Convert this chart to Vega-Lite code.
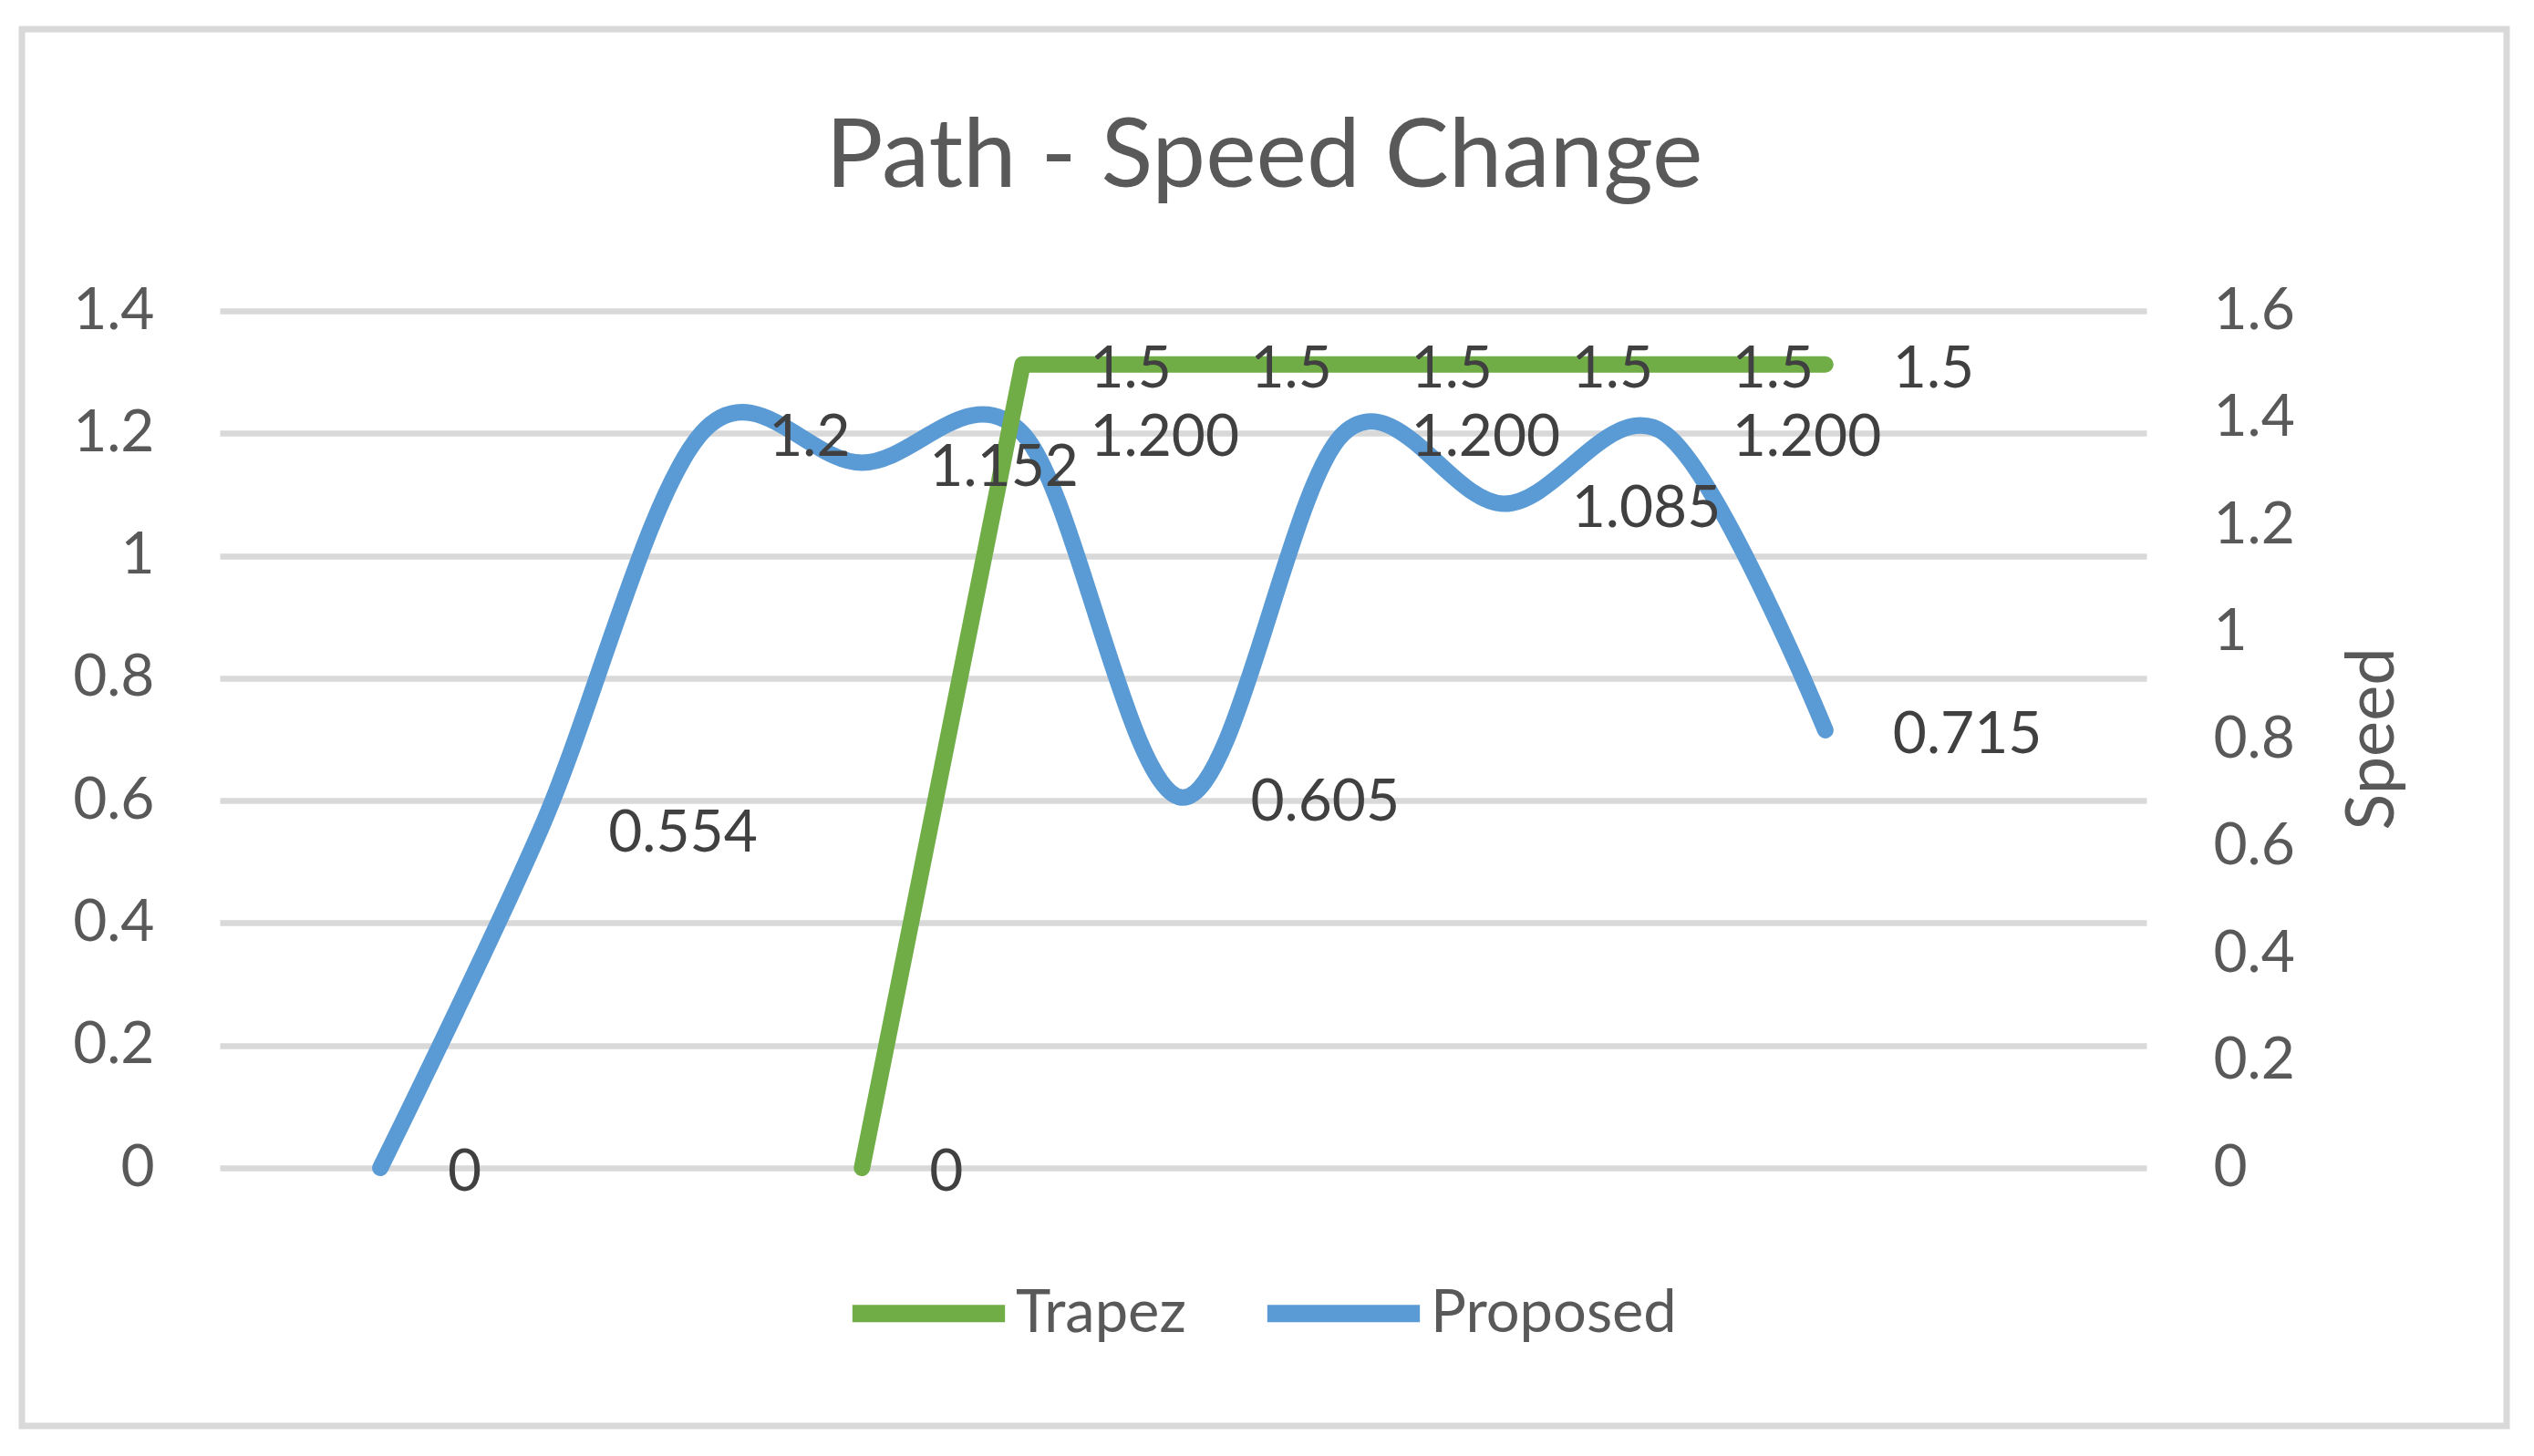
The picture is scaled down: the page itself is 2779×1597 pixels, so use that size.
{
  "$schema": "https://vega.github.io/schema/vega-lite/v6.json",
  "width": 2725,
  "height": 1532,
  "autosize": {"type": "none"},
  "padding": {"left": 24, "top": 32, "right": 30, "bottom": 33},
  "background": "white",
  "config": {
    "view": {"stroke": "#d9d9d9", "strokeWidth": 7},
    "font": "Lato",
    "axis": {
      "domain": false,
      "ticks": false,
      "tickSize": 0,
      "labelFont": "Lato",
      "labelFontSize": 64,
      "labelColor": "#595959",
      "gridColor": "#d9d9d9",
      "gridWidth": 6.5
    }
  },
  "title": {
    "text": "Path - Speed Change",
    "font": "Lato",
    "fontSize": 105,
    "fontWeight": "normal",
    "color": "#595959",
    "anchor": "middle",
    "frame": "group",
    "baseline": "alphabetic",
    "offset": -278
  },
  "data": {
    "values": [
      {"step": 1, "series": "Proposed", "value": 0, "label": "0"},
      {"step": 2, "series": "Proposed", "value": 0.554, "label": "0.554"},
      {"step": 3, "series": "Proposed", "value": 1.2, "label": "1.2"},
      {"step": 4, "series": "Proposed", "value": 1.152, "label": "1.152"},
      {"step": 5, "series": "Proposed", "value": 1.2, "label": "1.200"},
      {"step": 6, "series": "Proposed", "value": 0.605, "label": "0.605"},
      {"step": 7, "series": "Proposed", "value": 1.2, "label": "1.200"},
      {"step": 8, "series": "Proposed", "value": 1.085, "label": "1.085"},
      {"step": 9, "series": "Proposed", "value": 1.2, "label": "1.200"},
      {"step": 10, "series": "Proposed", "value": 0.715, "label": "0.715"},
      {"step": 4, "series": "Trapez", "value": 0, "label": "0"},
      {"step": 5, "series": "Trapez", "value": 1.5, "label": "1.5"},
      {"step": 6, "series": "Trapez", "value": 1.5, "label": "1.5"},
      {"step": 7, "series": "Trapez", "value": 1.5, "label": "1.5"},
      {"step": 8, "series": "Trapez", "value": 1.5, "label": "1.5"},
      {"step": 9, "series": "Trapez", "value": 1.5, "label": "1.5"},
      {"step": 10, "series": "Trapez", "value": 1.5, "label": "1.5"}
    ]
  },
  "encoding": {
    "x": {
      "field": "step",
      "type": "quantitative",
      "scale": {"domain": [0, 12], "range": [217, 2330], "nice": false, "zero": false},
      "axis": null
    }
  },
  "layer": [
    {
      "transform": [{"filter": "datum.series === 'Proposed'"}],
      "mark": {"type": "line", "interpolate": "cardinal", "tension": 0, "strokeWidth": 18, "strokeCap": "round", "strokeJoin": "round"},
      "encoding": {
        "y": {
          "field": "value",
          "type": "quantitative",
          "scale": {"domain": [0, 1.4], "range": [1249, 309], "nice": false, "zero": false},
          "axis": {
            "orient": "left",
            "values": [0, 0.2, 0.4, 0.6, 0.8, 1, 1.2, 1.4],
            "format": "~g",
            "grid": true,
            "labelPadding": -145,
            "labelAlign": "right",
            "labelBaseline": "middle",
            "title": null
          }
        },
        "color": {
          "field": "series",
          "type": "nominal",
          "scale": {"domain": ["Trapez", "Proposed"], "range": ["#70ad47", "#5b9bd5"]},
          "legend": {
            "title": null,
            "orient": "none",
            "legendX": 901,
            "legendY": 1315,
            "direction": "horizontal",
            "symbolType": "stroke",
            "symbolSize": 28000,
            "symbolStrokeWidth": 19,
            "labelFont": "Lato",
            "labelFontSize": 65,
            "labelColor": "#595959",
            "labelLimit": 1000,
            "labelOffset": 2,
            "columnPadding": 50,
            "padding": 0
          }
        }
      }
    },
    {
      "transform": [{"filter": "datum.series === 'Trapez'"}],
      "mark": {"type": "line", "interpolate": "linear", "strokeWidth": 18, "strokeCap": "round", "strokeJoin": "round"},
      "encoding": {
        "y": {
          "field": "value",
          "type": "quantitative",
          "scale": {"domain": [0, 1.6], "range": [1249, 309], "nice": false, "zero": false},
          "axis": {
            "orient": "right",
            "values": [0, 0.2, 0.4, 0.6, 0.8, 1, 1.2, 1.4, 1.6],
            "format": "~g",
            "grid": false,
            "labelPadding": -322,
            "labelAlign": "left",
            "labelBaseline": "middle",
            "title": "Speed",
            "titleFont": "Lato",
            "titleFontSize": 74,
            "titleFontWeight": "normal",
            "titleColor": "#595959",
            "titleAngle": 270,
            "titleAlign": "center",
            "titleBaseline": "middle",
            "titleX": -147,
            "titleY": 778
          }
        },
        "color": {"field": "series", "type": "nominal"}
      }
    },
    {
      "transform": [{"filter": "datum.series === 'Proposed'"}],
      "mark": {"type": "text", "align": "left", "baseline": "middle", "dx": 74, "dy": 6, "font": "Lato", "fontSize": 64, "color": "#404040"},
      "encoding": {
        "y": {
          "field": "value",
          "type": "quantitative",
          "scale": {"domain": [0, 1.4], "range": [1249, 309], "nice": false, "zero": false},
          "axis": null
        },
        "text": {"field": "label"}
      }
    },
    {
      "transform": [{"filter": "datum.series === 'Trapez'"}],
      "mark": {"type": "text", "align": "left", "baseline": "middle", "dx": 74, "dy": 6, "font": "Lato", "fontSize": 64, "color": "#404040"},
      "encoding": {
        "y": {
          "field": "value",
          "type": "quantitative",
          "scale": {"domain": [0, 1.6], "range": [1249, 309], "nice": false, "zero": false},
          "axis": null
        },
        "text": {"field": "label"}
      }
    }
  ],
  "resolve": {"scale": {"y": "independent"}}
}
